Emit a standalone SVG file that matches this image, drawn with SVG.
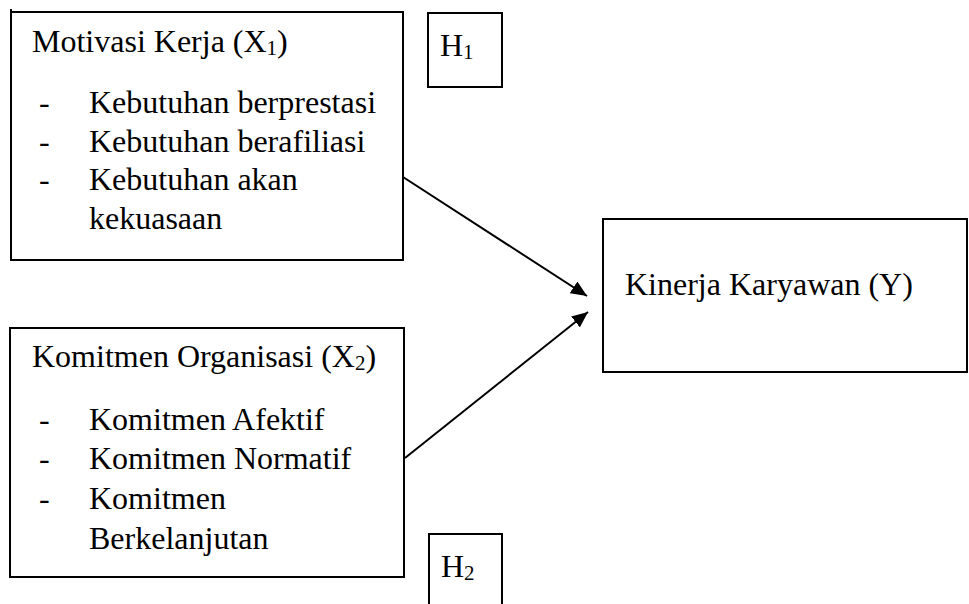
<svg xmlns="http://www.w3.org/2000/svg" width="969" height="604" viewBox="0 0 969 604">
<style>
.box{fill:none;stroke:#000;stroke-width:2}
.t{font-family:"Liberation Serif","Times New Roman",serif;font-size:32px;fill:#000}
.sub{font-size:21px}
.conn{stroke:#000;stroke-width:2;fill:none}
</style>
<defs>
<marker id="arr" viewBox="0 0 16 14" refX="16" refY="7" markerWidth="16" markerHeight="14" markerUnits="userSpaceOnUse" orient="auto">
<path d="M0,0 L16,7 L0,14 z" fill="#000"/>
</marker>
</defs>
<rect width="969" height="604" fill="#fff"/>
<g id="x1">
<rect class="box" x="11" y="12" width="392" height="248"/>
<line class="conn" x1="11" y1="9" x2="11" y2="13"/>
<text class="t" x="32" y="52">Motivasi Kerja (X<tspan class="sub" dy="3">1</tspan><tspan dy="-3">)</tspan></text>
<text class="t" x="39" y="113">-</text><text class="t" x="89" y="113">Kebutuhan berprestasi</text>
<text class="t" x="39" y="152">-</text><text class="t" x="89" y="152">Kebutuhan berafiliasi</text>
<text class="t" x="39" y="190">-</text><text class="t" x="89" y="190">Kebutuhan akan</text>
<text class="t" x="89" y="229">kekuasaan</text>
</g>
<g id="h1">
<rect class="box" x="428" y="13" width="74" height="74"/>
<text class="t" x="440" y="56">H<tspan class="sub" dy="3">1</tspan></text>
</g>
<g id="x2">
<rect class="box" x="10" y="328" width="394" height="249"/>
<text class="t" x="32" y="367">Komitmen Organisasi (X<tspan class="sub" dy="3">2</tspan><tspan dy="-3">)</tspan></text>
<text class="t" x="39" y="430">-</text><text class="t" x="89" y="430">Komitmen Afektif</text>
<text class="t" x="39" y="469">-</text><text class="t" x="89" y="469">Komitmen Normatif</text>
<text class="t" x="39" y="509">-</text><text class="t" x="89" y="509">Komitmen</text>
<text class="t" x="89" y="549">Berkelanjutan</text>
</g>
<g id="h2">
<rect class="box" x="429" y="534" width="73" height="80"/>
<text class="t" x="441" y="577">H<tspan class="sub" dy="3">2</tspan></text>
</g>
<g id="y">
<rect class="box" x="603" y="219" width="364" height="153"/>
<text class="t" x="625" y="295">Kinerja Karyawan (Y)</text>
</g>
<g id="connectors">
<line class="conn" x1="403" y1="177" x2="587" y2="296" marker-end="url(#arr)"/>
<line class="conn" x1="405" y1="458" x2="588" y2="312" marker-end="url(#arr)"/>
</g>
</svg>
